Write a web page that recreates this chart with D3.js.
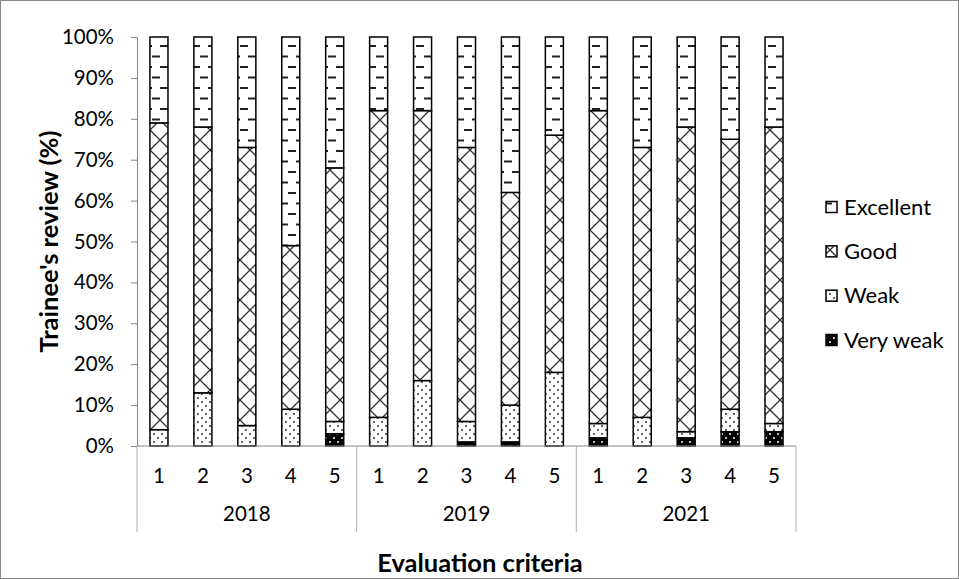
<!DOCTYPE html>
<html><head><meta charset="utf-8">
<script src="https://cdn.jsdelivr.net/npm/d3@7"></script>
<style>body{margin:0;background:#fff}svg{display:block}text{font-family:Lato,"Open Sans",sans-serif;fill:#000}</style>
</head><body>
<svg id="c" width="959" height="579"></svg>
<script>
const years = ["2018","2019","2021"];
const criteria = ["1","2","3","4","5"];
const keys = ["Very weak","Weak","Good","Excellent"];
const veryWeak = [0,0,0,0,3, 0,0,1,1,0, 2,0,2,3.5,3.5];
const weak =     [4,13,5,9,3, 7,16,5,9,18, 3.5,7,1.5,5.5,2];
const good =     [75,65,68,40,62, 75,66,67,52,58, 76.5,66,74.5,66,72.5];
const excellent =[21,22,27,51,32, 18,18,27,38,24, 18,27,22,25,22];
const yTicks = [0,10,20,30,40,50,60,70,80,90,100];

const rows = [];
years.forEach((y,i)=>criteria.forEach((c,j)=>{
  const k=i*5+j;
  rows.push({id:y+"-"+c,year:y,crit:c,"Very weak":veryWeak[k],"Weak":weak[k],"Good":good[k],"Excellent":excellent[k]});
}));

const svg = d3.select("#c");
const defs = svg.append("defs");
let p = defs.append("pattern").attr("id","pExc").attr("patternUnits","userSpaceOnUse").attr("width",16).attr("height",21);
p.append("rect").attr("width",16).attr("height",21).attr("fill","#fff");
p.append("rect").attr("x",0).attr("y",3).attr("width",8).attr("height",2).attr("fill","#222");
p.append("rect").attr("x",8).attr("y",13.5).attr("width",8).attr("height",2).attr("fill","#222");
p = defs.append("pattern").attr("id","pGood").attr("patternUnits","userSpaceOnUse").attr("width",20).attr("height",20);
p.append("rect").attr("width",20).attr("height",20).attr("fill","#fff");
p.append("path").attr("d","M0,0L20,20M20,0L0,20").attr("stroke","#333").attr("stroke-width",1.3);
p = defs.append("pattern").attr("id","pWeak").attr("patternUnits","userSpaceOnUse").attr("width",8).attr("height",8);
p.append("rect").attr("width",8).attr("height",8).attr("fill","#fff");
p.append("circle").attr("cx",2).attr("cy",2).attr("r",1).attr("fill","#333");
p.append("circle").attr("cx",6).attr("cy",6).attr("r",1).attr("fill","#333");
p = defs.append("pattern").attr("id","pVW").attr("patternUnits","userSpaceOnUse").attr("width",8).attr("height",8);
p.append("rect").attr("width",8).attr("height",8).attr("fill","#000");
p.append("circle").attr("cx",2).attr("cy",2).attr("r",1).attr("fill","#fff");
p.append("circle").attr("cx",6).attr("cy",6).attr("r",1).attr("fill","#fff");
const fills = {"Very weak":"url(#pVW)","Weak":"url(#pWeak)","Good":"url(#pGood)","Excellent":"url(#pExc)"};

svg.append("rect").attr("x",0.5).attr("y",0.5).attr("width",958).attr("height",578).attr("fill","none").attr("stroke","#888");

const x0 = 137, x1 = 796, yTop = 37, yBot = 446;
const x = d3.scaleBand().domain(rows.map(d=>d.id)).range([x0,x1]).paddingInner(0.59).paddingOuter(0.295);
const y = d3.scaleLinear().domain([0,100]).range([yBot,yTop]);

const stack = d3.stack().keys(keys)(rows);
const g = svg.append("g");
stack.forEach(s=>{
  g.selectAll(null).data(s).join("rect")
    .attr("x",d=>x(d.data.id)).attr("width",x.bandwidth())
    .attr("y",d=>y(d[1])).attr("height",d=>Math.max(0,y(d[0])-y(d[1])))
    .attr("fill",fills[s.key]).attr("stroke","#000").attr("stroke-width",1.5)
    .style("display",d=>d[1]-d[0]>0?null:"none");
});

const ya = svg.append("g").attr("transform",`translate(${x0},0)`)
  .call(d3.axisLeft(y).tickValues(yTicks).tickFormat(d=>d+"%").tickSize(6).tickSizeOuter(0));
ya.select(".domain").attr("stroke","#868686");
ya.selectAll(".tick line").attr("stroke","#868686");
ya.selectAll(".tick text").attr("x",-23).attr("font-size",20.5).attr("font-family","Lato").attr("fill","#000");

svg.append("line").attr("x1",x0).attr("x2",x1).attr("y1",yBot).attr("y2",yBot).attr("stroke","#868686");
const xa = svg.append("g").attr("transform",`translate(0,${yBot})`)
  .call(d3.axisBottom(x).tickSize(0).tickFormat(id=>id.split("-")[1]));
xa.select(".domain").remove();
xa.selectAll(".tick text").attr("y",22).attr("font-size",20.5).attr("font-family","Lato").attr("fill","#000");
const yearScale = d3.scaleBand().domain(years).range([x0,x1]);
years.forEach(yr=>{
  svg.append("text").attr("x",yearScale(yr)+yearScale.bandwidth()/2).attr("y",521)
    .attr("text-anchor","middle").attr("font-size",20.5).text(yr);
});
[...years.map(yr=>yearScale(yr)), x1].forEach(xx=>{
  svg.append("line").attr("x1",xx).attr("x2",xx).attr("y1",yBot).attr("y2",532).attr("stroke","#b0b0b0");
});

svg.append("text").attr("x",480).attr("y",572).attr("text-anchor","middle")
  .attr("font-size",25.5).attr("font-weight","bold").text("Evaluation criteria");
svg.append("text").attr("transform",`translate(58,${(yTop+yBot)/2}) rotate(-90)`).attr("text-anchor","middle")
  .attr("font-size",25.5).attr("font-weight","bold").text("Trainee's review (%)");

const legendKeys = ["Excellent","Good","Weak","Very weak"];
const ly = d3.scalePoint().domain(legendKeys).range([207,340]);
legendKeys.forEach(k=>{
  svg.append("rect").attr("x",826).attr("y",ly(k)-5.5).attr("width",11).attr("height",11)
    .attr("fill",fills[k]).attr("stroke","#000").attr("stroke-width",1.5);
  svg.append("text").attr("x",844).attr("y",ly(k)+7.5).attr("font-size",22).text(k);
});
</script>
</body></html>
